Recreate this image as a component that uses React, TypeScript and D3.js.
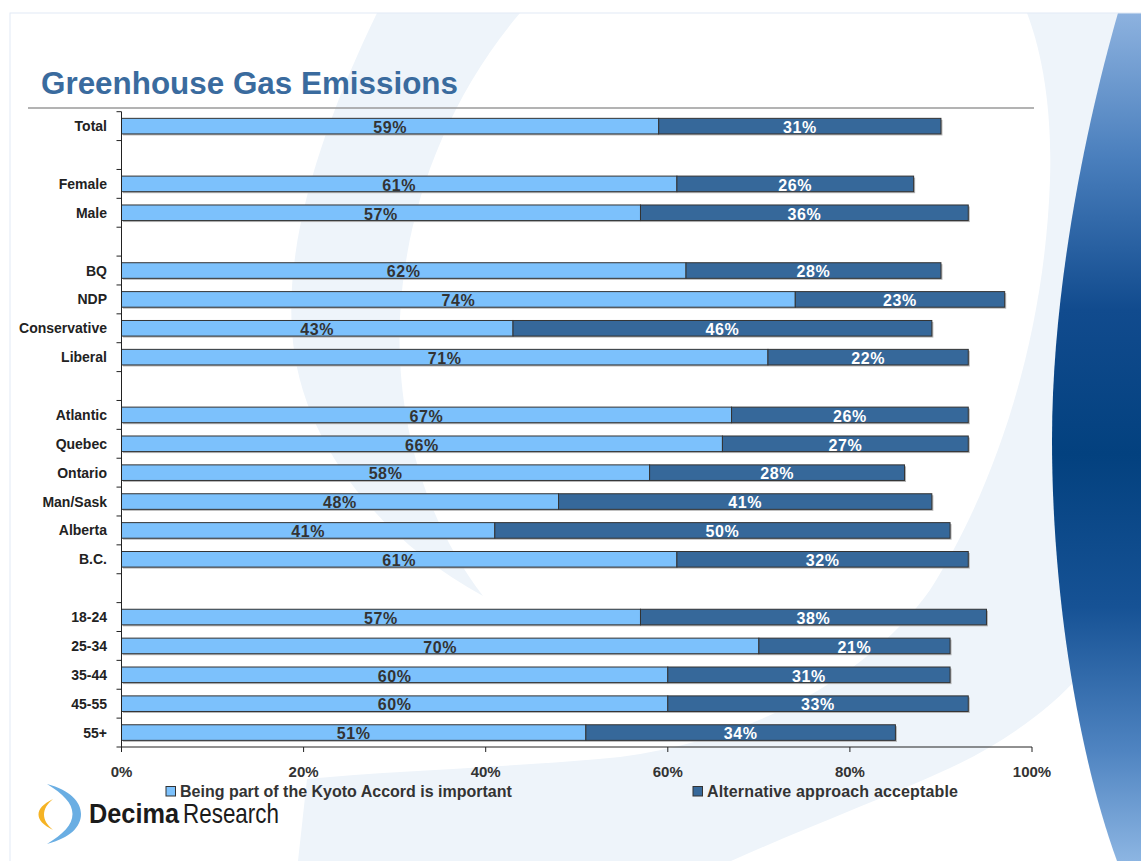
import React from "react";
import * as d3 from "d3";

// rows of the chart, blanks are spacer rows between groups
const categories = [
  "Total", "", "Female", "Male", "", "BQ", "NDP", "Conservative", "Liberal", "",
  "Atlantic", "Quebec", "Ontario", "Man/Sask", "Alberta", "B.C.", "",
  "18-24", "25-34", "35-44", "45-55", "55+",
];
const kyoto = [59, null, 61, 57, null, 62, 74, 43, 71, null, 67, 66, 58, 48, 41, 61, null, 57, 70, 60, 60, 51];
const alternative = [31, null, 26, 36, null, 28, 23, 46, 22, null, 26, 27, 28, 41, 50, 32, null, 38, 21, 31, 33, 34];
const xTicks = [0, 20, 40, 60, 80, 100];
const seriesNames = ["Being part of the Kyoto Accord is important", "Alternative approach acceptable"];

const W = 1141;
const H = 861;
const FONT = "'Liberation Sans', Arial, Helvetica, sans-serif";
const LIGHT = "#7cc1fc";
const DARK = "#36689a";
const PALE = "#eef4fa";

// background decoration (slide template)
const leftSwoosh =
  "M377,13 C330,110 285,230 292,330 C298,440 380,540 483,596 C440,540 405,460 400,360 C395,250 430,120 520,13 Z";
const rightSwoosh =
  "M1027,13 C1045,60 1052,120 1050,180 C1045,330 1000,480 930,590 C880,660 780,735 620,757 " +
  "C520,767 400,770 307,779 L298,861 L731,861 C800,830 880,800 950,768 C1000,745 1050,710 1080,675 L1130,13 Z";
const crescent =
  "M1118,13 C1090,110 1052,280 1052,440 C1052,600 1080,760 1117,861 L1141,861 L1141,13 Z";

export default function App() {
  const x = d3.scaleLinear().domain([0, 100]).range([121.5, 1032]);
  const y = d3
    .scaleBand()
    .domain(categories.map((_, i) => String(i)))
    .range([111.7, 747])
    .paddingInner(0.46)
    .paddingOuter(0.23);
  const bw = y.bandwidth();
  const bounds = d3.range(categories.length + 1).map((i) => 111.7 + i * y.step());

  return (
    <svg width={W} height={H} style={{ position: "absolute", left: 0, top: 0 }} fontFamily={FONT}>
      <defs>
        <linearGradient id="crescentGrad" x1="0" y1="0" x2="0" y2="1">
          <stop offset="0" stopColor="#8db2df" />
          <stop offset="0.17" stopColor="#4a7fbd" />
          <stop offset="0.35" stopColor="#114b8e" />
          <stop offset="0.52" stopColor="#03417f" />
          <stop offset="0.7" stopColor="#165295" />
          <stop offset="0.87" stopColor="#4f84c1" />
          <stop offset="1" stopColor="#8cb5e2" />
        </linearGradient>
      </defs>
      <rect width={W} height={H} fill="#fff" />
      <path d={leftSwoosh} fill={PALE} />
      <path d={rightSwoosh} fill={PALE} />
      <path d={crescent} fill="url(#crescentGrad)" />
      <rect x={10} y={13} width={W} height={H} fill="none" stroke="#e2eaf5" strokeWidth={1} />

      {/* title */}
      <text x={41} y={94} fontSize={31} fontWeight="bold" fill="#3a6b9e" textLength={417} lengthAdjust="spacingAndGlyphs">
        Greenhouse Gas Emissions
      </text>
      <line x1={28} x2={1034} y1={108} y2={108} stroke="#9a9a9a" strokeWidth={1.5} />

      {/* bars */}
      {categories.map((c, i) => {
        const k = kyoto[i];
        const a = alternative[i];
        if (k == null || a == null) return null;
        const top = y(String(i))!;
        const cy = top + bw / 2;
        return (
          <g key={i}>
            <rect x={x(0) + 1.5} y={top + 1.5} width={x(k + a) - x(0)} height={bw} fill="#b5b5b5" />
            <rect x={x(0)} y={top} width={x(k) - x(0)} height={bw} fill={LIGHT} stroke="#333" strokeWidth={1} />
            <rect x={x(k)} y={top} width={x(k + a) - x(k)} height={bw} fill={DARK} stroke="#333" strokeWidth={1} />
            <text x={x(k / 2)} y={cy + 6.8} textAnchor="middle" fontSize={16} letterSpacing={0.6} fontWeight="bold" fill="#333">
              {k}%
            </text>
            <text x={x(k + a / 2)} y={cy + 6.8} textAnchor="middle" fontSize={16} letterSpacing={0.6} fontWeight="bold" fill="#fff">
              {a}%
            </text>
          </g>
        );
      })}

      {/* y axis */}
      <line x1={x(0)} x2={x(0)} y1={111.7} y2={747} stroke="#222" strokeWidth={1} />
      {bounds.map((b, i) => (
        <line key={i} x1={x(0) - 5} x2={x(0)} y1={b} y2={b} stroke="#222" strokeWidth={1} />
      ))}
      {categories.map((c, i) =>
        c ? (
          <text key={i} x={107} y={y(String(i))! + bw / 2 + 5} textAnchor="end" fontSize={14} fontWeight="bold" fill="#222">
            {c}
          </text>
        ) : null
      )}

      {/* x axis */}
      <line x1={x(0)} x2={x(100)} y1={747} y2={747} stroke="#222" strokeWidth={1} />
      {xTicks.map((t) => (
        <g key={t}>
          <line x1={x(t)} x2={x(t)} y1={747} y2={752} stroke="#222" strokeWidth={1} />
          <text x={x(t)} y={777} textAnchor="middle" fontSize={15} fontWeight="bold" fill="#333">
            {t}%
          </text>
        </g>
      ))}

      {/* legend */}
      <rect x={166} y={786.5} width={9.5} height={9.5} fill={LIGHT} stroke="#333" strokeWidth={1} />
      <text x={180} y={797} fontSize={16} fontWeight="bold" fill="#333">
        {seriesNames[0]}
      </text>
      <rect x={693} y={786.5} width={9.5} height={9.5} fill={DARK} stroke="#333" strokeWidth={1} />
      <text x={707} y={797} fontSize={16} fontWeight="bold" fill="#333" textLength={251} lengthAdjust="spacing">
        {seriesNames[1]}
      </text>

      {/* logo */}
      <path d="M47,784 C70,790 81,802 81,814 C81,827 70,838 47,844 C63,834 72.5,825 72.5,814 C72.5,803 63,794 47,784 Z" fill="#6aaee3" />
      <path d="M53,799 C43,804 38.5,809 38.5,814.5 C38.5,820 43,825 53,830 C47,825 44,820 44,814.5 C44,809 47,804 53,799 Z" fill="#f5b324" />
      <text x={89} y={823} fontSize={28} fontWeight="bold" fill="#1b1b1b" textLength={90} lengthAdjust="spacingAndGlyphs">
        Decima
      </text>
      <text x={183} y={823} fontSize={28} fill="#1b1b1b" textLength={96} lengthAdjust="spacingAndGlyphs">
        Research
      </text>
    </svg>
  );
}
